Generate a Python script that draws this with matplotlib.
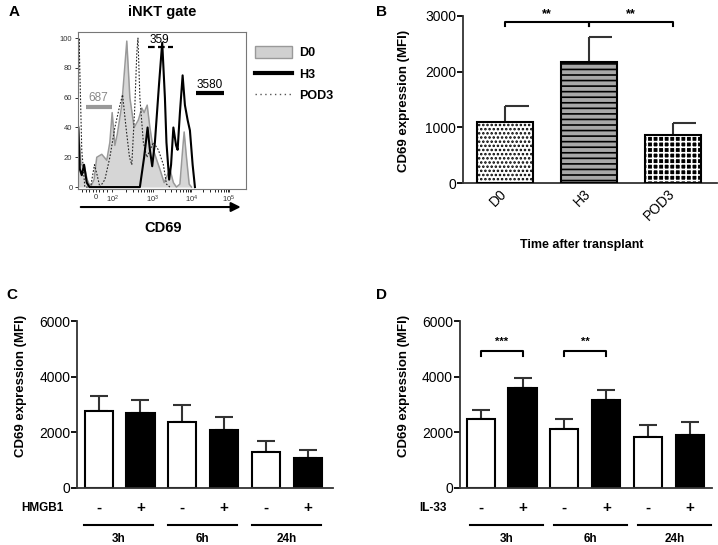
import numpy as np
import matplotlib.pyplot as plt
from matplotlib.patches import Patch
from matplotlib.lines import Line2D

plt.rcParams['font.family'] = ['Liberation Sans', 'DejaVu Sans']
plt.rcParams['mathtext.default'] = 'regular'
plt.rcParams['hatch.linewidth'] = 1.2

# ---- panel A: CD69 histograms (x in logicle decades, y in % of max)
d0_x = [1.06, 1.13, 1.21, 1.29, 1.38, 1.47, 1.54, 1.67, 1.80, 1.88, 1.94, 2.01, 2.07,
        2.19, 2.32, 2.40, 2.51, 2.62, 2.71, 2.77, 2.85, 2.92, 3.01, 3.10, 3.18, 3.29,
        3.44, 3.53, 3.61, 3.70, 3.77, 3.81, 3.87, 3.94, 4.00]
d0_y = [42, 15, 15, 5, 0, 5, 20, 22, 18, 30, 50, 28, 35,
        55, 98, 60, 40, 45, 53, 50, 55, 40, 25, 18, 12, 3,
        12, 3, 0, 2, 25, 37, 20, 2, 0]

h3_x = [1.06, 1.10, 1.15, 1.21, 1.28, 1.35, 2.66, 2.77, 2.86, 2.92, 2.98, 3.05, 3.16,
        3.24, 3.31, 3.35, 3.42, 3.47, 3.53, 3.60, 3.64, 3.70, 3.77, 3.83, 3.90, 3.96,
        4.03, 4.09]
h3_y = [40, 12, 8, 15, 3, 0, 0, 20, 40, 25, 14, 30, 70,
        97, 60, 30, 5, 15, 40, 28, 25, 50, 75, 55, 45, 38,
        15, 0]

pod3_x = [1.06, 1.08, 1.15, 1.23, 1.38, 1.48, 1.55, 1.62, 1.75, 1.88, 2.01, 2.14, 2.21,
          2.30, 2.39, 2.45, 2.53, 2.58, 2.61, 2.66, 2.75, 2.84, 3.01, 3.14, 3.27, 3.35, 3.44]
pod3_y = [60, 100, 25, 0, 0, 15, 8, 0, 5, 20, 40, 55, 62,
          40, 20, 15, 55, 90, 100, 60, 30, 20, 30, 25, 15, 2, 0]

# ---- panel B
b_groups = ['D0', 'H3', 'POD3']
b_mean = [1100, 2170, 860]
b_err = [280, 450, 215]

# ---- panels C and D
signs = ['-', '+', '-', '+', '-', '+']
times = ['3h', '6h', '24h']
c_mean = [2740, 2670, 2345, 2070, 1275, 1070]
c_err = [555, 480, 625, 480, 410, 290]
d_mean = [2480, 3585, 2120, 3155, 1835, 1880]
d_err = [325, 350, 345, 355, 430, 465]

fig = plt.figure(figsize=(7.18, 5.45), dpi=100)

# ================= A =================
axA = fig.add_axes([0.1086, 0.654, 0.234, 0.287])
axA.fill_between(d0_x, d0_y, color='#d6d6d6', lw=0)
axA.plot(d0_x, d0_y, color='#999999', lw=1.1)
axA.plot(pod3_x, pod3_y, color='#222222', lw=0.8, ls=(0, (1.5, 1.5)))
axA.plot(h3_x, h3_y, color='black', lw=1.5)
axA.set_xlim(1.052, 5.416)
axA.set_ylim(-1, 104)
axA.set_yticks([0, 20, 40, 60, 80, 100])
axA.set_xticks([1.51, 1.94, 3.0, 4.0, 4.97])
axA.set_xticklabels(['0', '$10^2$', '$10^3$', '$10^4$', '$10^5$'])
minor = [d + np.log10(k) for d in (2, 3, 4) for k in range(2, 10)]
minor += [1.15, 1.25, 1.35, 1.43, 1.6, 1.7, 1.8]
axA.set_xticks(minor, minor=True)
axA.tick_params(labelsize=5.5, length=2.5, width=0.7, pad=1.5, colors='#333333')
axA.tick_params(axis='x', which='minor', length=1.8, width=0.6)
for s in axA.spines.values():
    s.set_color('#777777')
    s.set_linewidth(0.8)

# gate annotations
axA.plot([1.27, 1.94], [54, 54], color='#999999', lw=3, solid_capstyle='butt')
axA.text(1.59, 55.5, '687', color='#888888', fontsize=8.5, ha='center', va='bottom')
axA.plot([2.86, 3.53], [94, 94], color='black', lw=1.6, ls=(0, (3, 1.5)))
axA.text(3.16, 95, '359', fontsize=8.5, ha='center', va='bottom', clip_on=False)
axA.plot([4.12, 4.85], [63, 63], color='black', lw=3, solid_capstyle='butt')
axA.text(4.48, 64.5, '3580', fontsize=8.5, ha='center', va='bottom')

axA.annotate('', xy=(0.985, -0.118), xytext=(0.0, -0.118), xycoords='axes fraction',
             arrowprops=dict(arrowstyle='-|>', color='black', lw=1.5, mutation_scale=14),
             annotation_clip=False)
axA.text(0.506, -0.252, 'CD69', transform=axA.transAxes, ha='center', va='center',
         fontsize=10.5, fontweight='bold')
axA.text(0.5, 1.128, 'iNKT gate', transform=axA.transAxes, ha='center', va='center',
         fontsize=10.5, fontweight='bold')

handles = [Patch(facecolor='#d0d0d0', edgecolor='#999999', lw=1),
           Line2D([], [], color='black', lw=3),
           Line2D([], [], color='#555555', lw=1, ls=(0, (1, 2.5)))]
fig.legend(handles, ['D0', 'H3', 'POD3'], loc='upper left', bbox_to_anchor=(0.355, 0.915),
           frameon=False, borderpad=0, borderaxespad=0, handlelength=3.0, handleheight=1.0,
           handletextpad=0.5, labelspacing=0.68, prop={'weight': 'bold', 'size': 9})

# ================= B =================
axB = fig.add_axes([0.645, 0.664, 0.354, 0.307])
xb = np.arange(len(b_groups))
bars = axB.bar(xb, b_mean, width=0.667, color=['white', '#a8a8a8', 'black'],
               edgecolor=['black', 'black', 'white'], linewidth=0, zorder=2)
for b, h in zip(bars, ['....', '---', '+++']):
    b.set_hatch(h)
# outline drawn on top so the white-hatched bar keeps a black border
axB.bar(xb, b_mean, width=0.667, color='none', edgecolor='black', linewidth=1.5, zorder=3)
tops = np.array(b_mean) + np.array(b_err)
axB.vlines(xb, b_mean, tops, color='#333333', lw=1.5, zorder=1)
axB.hlines(tops, xb, xb + 0.28, color='#333333', lw=1.5)
axB.set_xlim(-0.5, 2.53)
axB.set_ylim(0, 3000)
axB.set_yticks([0, 1000, 2000, 3000])
axB.set_xticks(xb)
axB.set_xticklabels(b_groups, rotation=45, ha='right', va='center', rotation_mode='anchor')
axB.tick_params(axis='y', length=4, width=1.3, labelsize=10, pad=1)
axB.tick_params(axis='x', length=0, labelsize=10, pad=6)
for side in ['top', 'right']:
    axB.spines[side].set_visible(False)
for side in ['left', 'bottom']:
    axB.spines[side].set_color('#333333')
    axB.spines[side].set_linewidth(1.3)
for a, b in [(0, 1), (1, 2)]:
    axB.plot([a, a, b, b], [2815, 2882, 2882, 2815], color='black', lw=1.5, clip_on=False)
    axB.text((a + b) / 2, 3030, '**', ha='center', va='center', fontsize=9, fontweight='bold')
axB.set_ylabel('CD69 expression (MFI)', fontsize=9.5, fontweight='bold')
axB.yaxis.set_label_coords(-0.209, 0.49)
axB.text(0.468, -0.371, 'Time after transplant', transform=axB.transAxes, ha='center',
         va='center', fontsize=9, fontweight='bold')


# ================= C & D =================
def bar_panel(ax, means, errs, treatment, tx, line_lo, line_hi, xmin, xmax, stars):
    x = np.arange(len(means))
    ax.bar(x, means, width=0.67, color=['white', 'black'] * 3, edgecolor='black',
           linewidth=1.5, zorder=2)
    ax.errorbar(x, means, yerr=[np.zeros(len(errs)), errs], fmt='none', ecolor='#333333',
                elinewidth=1.5, capsize=6.5, capthick=1.5, zorder=1)
    ax.set_xlim(xmin, xmax)
    ax.set_ylim(0, 6000)
    ax.set_yticks([0, 2000, 4000, 6000])
    ax.set_xticks([])
    ax.tick_params(axis='y', length=4, width=1.3, labelsize=10, pad=1)
    for side in ['top', 'right']:
        ax.spines[side].set_visible(False)
    for side in ['left', 'bottom']:
        ax.spines[side].set_color('#333333')
        ax.spines[side].set_linewidth(1.3)
    tr = ax.get_xaxis_transform()
    for i, s in enumerate(signs):
        ax.text(i, -0.123, s, transform=tr, ha='center', va='center', fontsize=11,
                fontweight='bold')
    ax.text(tx, -0.123, treatment, transform=ax.transAxes, ha='center', va='center',
            fontsize=8.5, fontweight='bold')
    for g, t in enumerate(times):
        lo, hi = 2 * g + line_lo, 2 * g + 1 + line_hi
        ax.plot([lo, hi], [-0.228, -0.228], transform=tr, color='black', lw=1.5, clip_on=False)
        ax.text((lo + hi) / 2, -0.309, t, transform=tr, ha='center', va='center',
                fontsize=8.5, fontweight='bold')
    for a, b, st in stars:
        ax.plot([a, a, b, b], [4750, 4919, 4919, 4750], color='black', lw=1.5)
        ax.text((a + b) / 2, 5243, st, ha='center', va='center', fontsize=8, fontweight='bold')
    ax.set_ylabel('CD69 expression (MFI)', fontsize=9.5, fontweight='bold')


axC = fig.add_axes([0.1077, 0.1055, 0.356, 0.3055])
bar_panel(axC, c_mean, c_err, 'HMGB1', -0.138, -0.34, 0.31, -0.51, 5.6, [])
axC.yaxis.set_label_coords(-0.197, 0.61)

axD = fig.add_axes([0.6407, 0.1055, 0.351, 0.3055])
bar_panel(axD, d_mean, d_err, 'IL-33', -0.107, -0.25, 0.5, -0.49, 5.52,
          [(0, 1, '***'), (2, 3, '**')])
axD.yaxis.set_label_coords(-0.198, 0.61)

# panel letters
for lx, ly, lab in [(0.0195, 0.978, 'A'), (0.531, 0.978, 'B'),
                    (0.0167, 0.459, 'C'), (0.531, 0.459, 'D')]:
    fig.text(lx, ly, lab, fontsize=11, fontweight='bold', ha='center', va='center')

fig.savefig('out.png', dpi=100)
